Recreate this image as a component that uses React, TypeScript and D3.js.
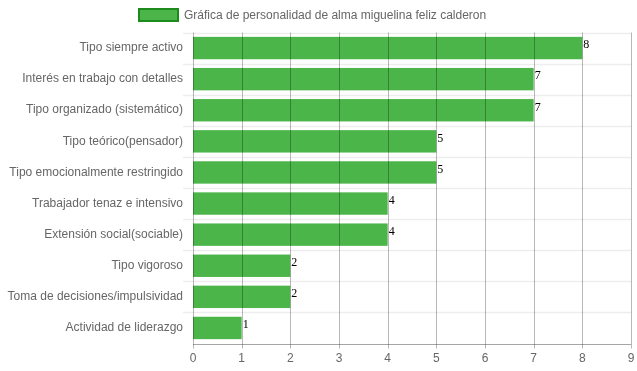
import React, { useEffect, useRef } from 'react'
import * as d3 from 'd3'

const categories = [
    'Tipo siempre activo',
    'Interés en trabajo con detalles',
    'Tipo organizado (sistemático)',
    'Tipo teórico(pensador)',
    'Tipo emocionalmente restringido',
    'Trabajador tenaz e intensivo',
    'Extensión social(sociable)',
    'Tipo vigoroso',
    'Toma de decisiones/impulsividad',
    'Actividad de liderazgo',
]
const values = [8, 7, 7, 5, 5, 4, 4, 2, 2, 1]
const xTicks = [0, 1, 2, 3, 4, 5, 6, 7, 8, 9]
const seriesName = 'Gráfica de personalidad de alma miguelina feliz calderon'

const App: React.FC = () => {
    const svgRef = useRef<SVGSVGElement | null>(null)

    useEffect(() => {
        if (!svgRef.current) return
        const svg = d3.select(svgRef.current)
        svg.selectAll('*').remove()

        const width = 637
        const height = 371
        const margin = { top: 32.5, right: 6, bottom: 27.5, left: 193 }
        const font = '"Liberation Sans", Arial, sans-serif'

        const x = d3.scaleLinear().domain([0, 9]).range([margin.left, width - margin.right])
        const y = d3
            .scaleBand()
            .domain(categories)
            .range([margin.top, height - margin.bottom])
            .paddingInner(0.28)
            .paddingOuter(0.14)

        const step = y.step()
        const bandTop = (c: string) => margin.top + categories.indexOf(c) * step

        // bars
        svg.append('g')
            .selectAll('rect')
            .data(categories)
            .enter()
            .append('rect')
            .attr('x', x(0))
            .attr('y', (d) => y(d)!)
            .attr('width', (d, i) => x(values[i]) - x(0))
            .attr('height', y.bandwidth())
            .attr('fill', '#4cb54a')

        // horizontal grid (between categories)
        const hLines = d3.range(categories.length).map((i) => margin.top + i * step)
        svg.append('g')
            .selectAll('line')
            .data(hLines)
            .enter()
            .append('line')
            .attr('x1', margin.left - 10)
            .attr('x2', width - margin.right)
            .attr('y1', (d) => Math.round(d) + 0.5)
            .attr('y2', (d) => Math.round(d) + 0.5)
            .attr('stroke', 'rgba(0,0,0,0.07)')
            .attr('stroke-width', 1.5)

        // vertical grid
        svg.append('g')
            .selectAll('line')
            .data(xTicks)
            .enter()
            .append('line')
            .attr('x1', (d) => Math.round(x(d)) + 0.5)
            .attr('x2', (d) => Math.round(x(d)) + 0.5)
            .attr('y1', margin.top)
            .attr('y2', height - margin.bottom + 5)
            .attr('stroke', 'rgba(0,0,0,0.28)')
            .attr('stroke-width', 1)

        // x axis line
        svg.append('line')
            .attr('x1', margin.left)
            .attr('x2', width - margin.right)
            .attr('y1', Math.round(height - margin.bottom) + 0.5)
            .attr('y2', Math.round(height - margin.bottom) + 0.5)
            .attr('stroke', 'rgba(0,0,0,0.35)')

        // x tick labels
        svg.append('g')
            .selectAll('text')
            .data(xTicks)
            .enter()
            .append('text')
            .attr('x', (d) => x(d))
            .attr('y', height - margin.bottom + 18)
            .attr('text-anchor', 'middle')
            .attr('font-family', font)
            .attr('font-size', 12)
            .attr('fill', '#666')
            .text((d) => d)

        // category labels
        svg.append('g')
            .selectAll('text')
            .data(categories)
            .enter()
            .append('text')
            .attr('x', margin.left - 10)
            .attr('y', (d) => bandTop(d) + step / 2 - 1)
            .attr('dy', '0.35em')
            .attr('text-anchor', 'end')
            .attr('font-family', font)
            .attr('font-size', 12)
            .attr('fill', '#666')
            .text((d) => d)

        // value labels
        svg.append('g')
            .selectAll('text')
            .data(categories)
            .enter()
            .append('text')
            .attr('x', (d, i) => x(values[i]) + 1)
            .attr('y', (d) => y(d)! + 11.5)
            .attr('font-family', '"Liberation Serif", "Times New Roman", serif')
            .attr('font-size', 12)
            .attr('fill', '#000')
            .text((d, i) => values[i])

        // legend
        svg.append('rect')
            .attr('x', 139)
            .attr('y', 9)
            .attr('width', 39)
            .attr('height', 12)
            .attr('fill', '#4cb54a')
            .attr('stroke', '#1c8a1c')
            .attr('stroke-width', 2)
        svg.append('text')
            .attr('x', 184)
            .attr('y', 15)
            .attr('dy', '0.35em')
            .attr('font-family', font)
            .attr('font-size', 12)
            .attr('fill', '#666')
            .text(seriesName)
    }, [])

    return (
        <div style={{ position: 'fixed', left: 0, top: 0, width: 637, height: 371, overflow: 'hidden' }}>
            <svg ref={svgRef} width={637} height={371} style={{ display: 'block' }}></svg>
        </div>
    )
}

export default App
